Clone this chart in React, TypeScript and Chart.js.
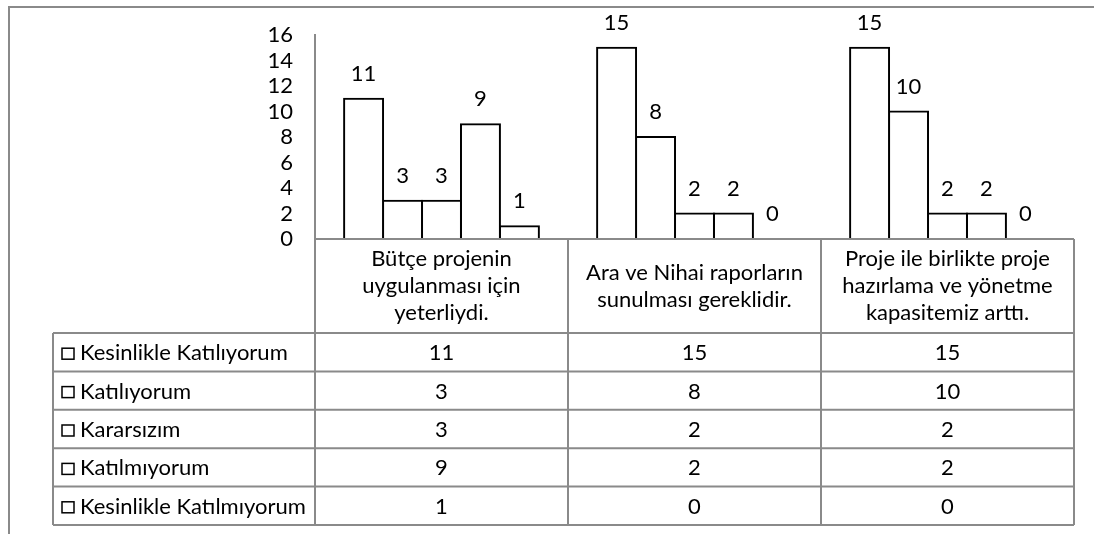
import React, { useEffect, useRef } from "react";
import { Chart, registerables } from "chart.js";

Chart.register(...registerables);

const categories: string[][] = [
  ["Bütçe projenin", "uygulanması için", "yeterliydi."],
  ["Ara ve Nihai raporların", "sunulması gereklidir."],
  ["Proje ile birlikte proje", "hazırlama ve yönetme", "kapasitemiz arttı."],
];

const seriesNames = [
  "Kesinlikle Katılıyorum",
  "Katılıyorum",
  "Kararsızım",
  "Katılmıyorum",
  "Kesinlikle Katılmıyorum",
];

const kesinlikleKatiliyorum = [11, 15, 15];
const katiliyorum = [3, 8, 10];
const kararsizim = [3, 2, 2];
const katilmiyorum = [9, 2, 2];
const kesinlikleKatilmiyorum = [1, 0, 0];

const seriesValues = [
  kesinlikleKatiliyorum,
  katiliyorum,
  kararsizim,
  katilmiyorum,
  kesinlikleKatilmiyorum,
];

const yMin = 0;
const yMax = 16;
const yStep = 2;

const FONT = "Lato";
const FS = 22;
const GRID = "#8a8a8a";

const tablePlugin = {
  id: "excelTable",
  afterDraw(chart: any) {
    const ctx = chart.ctx;
    const area = chart.chartArea;
    const xs = chart.scales.x;
    const left = area.left;
    const right = area.right;
    const n = categories.length;
    const colW = (right - left) / n;
    const headerTop = area.bottom;
    const headerBottom = headerTop + 94;
    const legendLeft = 53;
    const rowH = 38.4;
    const rows = seriesNames.length;
    const tableBottom = headerBottom + rowH * rows;

    ctx.save();
    // frame
    ctx.strokeStyle = GRID;
    ctx.lineWidth = 2;
    ctx.beginPath();
    ctx.moveTo(9, chart.height);
    ctx.lineTo(9, 7);
    ctx.lineTo(chart.width, 7);
    ctx.stroke();

    // data labels above bars
    ctx.fillStyle = "#000";
    ctx.font = `${FS}px ${FONT}`;
    ctx.textAlign = "center";
    ctx.textBaseline = "middle";
    chart.data.datasets.forEach((ds: any, di: number) => {
      const meta = chart.getDatasetMeta(di);
      meta.data.forEach((el: any, i: number) => {
        ctx.fillText(String(ds.data[i]), el.x, el.y - 25);
      });
    });

    // table grid
    ctx.strokeStyle = GRID;
    ctx.lineWidth = 2;
    ctx.beginPath();
    ctx.moveTo(left, headerTop);
    ctx.lineTo(right, headerTop);
    for (let r = 0; r <= rows; r++) {
      const y = headerBottom + r * rowH;
      ctx.moveTo(legendLeft, y);
      ctx.lineTo(right, y);
    }
    for (let c = 0; c <= n; c++) {
      const x = left + c * colW;
      ctx.moveTo(x, headerTop);
      ctx.lineTo(x, tableBottom);
    }
    ctx.moveTo(legendLeft, headerBottom);
    ctx.lineTo(legendLeft, tableBottom);
    ctx.stroke();

    // header text
    ctx.fillStyle = "#000";
    const lineH = 27;
    const headerMid = (headerTop + headerBottom) / 2;
    categories.forEach((lines, i) => {
      const cx = xs.getPixelForValue(i);
      const start = headerMid - ((lines.length - 1) * lineH) / 2;
      lines.forEach((ln, k) => {
        ctx.fillText(ln, cx, start + k * lineH);
      });
    });

    // legend rows + values
    seriesNames.forEach((name, r) => {
      const cy = headerBottom + r * rowH + rowH / 2;
      ctx.strokeStyle = "#000";
      ctx.lineWidth = 1.5;
      ctx.strokeRect(62, cy - 4, 12, 11);
      ctx.textAlign = "left";
      ctx.fillText(name, 80, cy + 1);
      ctx.textAlign = "center";
      seriesValues[r].forEach((v, i) => {
        ctx.fillText(String(v), xs.getPixelForValue(i), cy + 1);
      });
    });
    ctx.restore();
  },
};

export default function App() {
  const ref = useRef<HTMLCanvasElement | null>(null);

  useEffect(() => {
    if (!ref.current) return;
    const chart = new Chart(ref.current, {
      type: "bar",
      data: {
        labels: categories.map((c) => c.join(" ")),
        datasets: seriesNames.map((name, i) => ({
          label: name,
          data: seriesValues[i],
          backgroundColor: "#ffffff",
          borderColor: "#000000",
          borderWidth: (c: any) => (c.raw === 0 ? 0 : 2),
          inflateAmount: 1,
          borderSkipped: "start",
          categoryPercentage: 0.77,
          barPercentage: 1.0,
        })),
      },
      options: {
        responsive: false,
        animation: false,
        devicePixelRatio: 1,
        layout: { padding: { left: 0, top: 35, right: 20, bottom: 295 } },
        plugins: {
          legend: { display: false },
          tooltip: { enabled: false },
          title: { display: false },
        },
        scales: {
          x: {
            display: false,
            offset: true,
          },
          y: {
            min: yMin,
            max: yMax,
            afterFit: (s: any) => {
              s.width = 315;
            },
            grid: { display: false, drawTicks: false },
            border: { display: true, color: GRID, width: 2 },
            ticks: {
              stepSize: yStep,
              autoSkip: false,
              padding: 22,
              color: "#000",
              font: { family: FONT, size: FS, lineHeight: 1 },
            },
          },
        },
      },
      plugins: [tablePlugin],
    } as any);
    return () => chart.destroy();
  }, []);

  return (
    <div style={{ position: "fixed", left: 0, top: 0, width: 1094, height: 534, background: "#fff" }}>
      <canvas ref={ref} width={1094} height={534} style={{ width: 1094, height: 534 }} />
    </div>
  );
}
